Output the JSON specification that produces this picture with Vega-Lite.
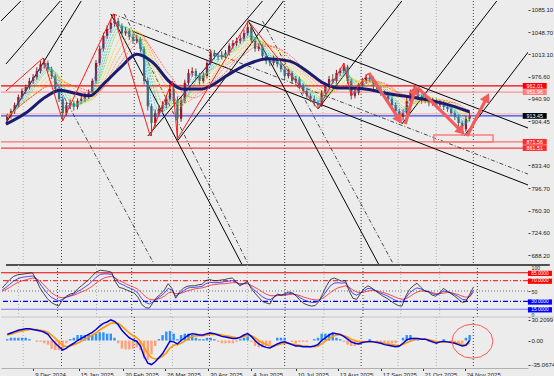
{
"$schema":"https://vega.github.io/schema/vega-lite/v6.json",
"background":"#ececec",
"padding":0,
"spacing":0,
"bounds":"flush",
"config":{"view":{"stroke":null},"font":"Liberation Sans","axis":{"labelFont":"Liberation Sans","labelFontSize":6,"labelColor":"#222","tickColor":"#444","grid":false,"title":null},"text":{"font":"Liberation Sans"}},
"datasets":{
"px":[
{"d":"2024-11-18","o":906,"h":917,"l":901,"c":913,"r":56,"b":52,"s":50,"m":9,"g":8,"hi":2},
{"d":"2024-11-21","o":913,"h":925,"l":909,"c":921,"r":64,"b":57,"s":53,"m":11,"g":9,"hi":4},
{"d":"2024-11-24","o":921,"h":935,"l":917,"c":931,"r":72,"b":63,"s":57,"m":13,"g":11,"hi":4},
{"d":"2024-11-27","o":931,"h":948,"l":927,"c":944,"r":78,"b":69,"s":62,"m":15,"g":13,"hi":4},
{"d":"2024-11-30","o":944,"h":958,"l":940,"c":954,"r":81,"b":73,"s":66,"m":16,"g":14,"hi":4},
{"d":"2024-12-03","o":954,"h":964,"l":949,"c":960,"r":82,"b":76,"s":69,"m":17,"g":15,"hi":4},
{"d":"2024-12-06","o":960,"h":975,"l":956,"c":970,"r":83,"b":77,"s":71,"m":17,"g":16,"hi":2},
{"d":"2024-12-09","o":970,"h":981,"l":965,"c":976,"r":84,"b":78,"s":73,"m":16,"g":16,"hi":0},
{"d":"2024-12-12","o":976,"h":992,"l":972,"c":986,"r":85,"b":79,"s":75,"m":15,"g":16,"hi":-2},
{"d":"2024-12-15","o":986,"h":1002,"l":982,"c":997,"r":72,"b":74,"s":74,"m":14,"g":15,"hi":-2},
{"d":"2024-12-18","o":997,"h":1006,"l":990,"c":999,"r":56,"b":64,"s":69,"m":12,"g":14,"hi":-4},
{"d":"2024-12-21","o":999,"h":1003,"l":984,"c":989,"r":45,"b":54,"s":62,"m":9,"g":12,"hi":-6},
{"d":"2024-12-24","o":989,"h":993,"l":973,"c":978,"r":35,"b":45,"s":54,"m":2,"g":8,"hi":-12},
{"d":"2024-12-27","o":978,"h":982,"l":952,"c":957,"r":28,"b":38,"s":47,"m":-4,"g":3,"hi":-14},
{"d":"2024-12-30","o":957,"h":962,"l":936,"c":941,"r":24,"b":34,"s":42,"m":-9,"g":-2,"hi":-14},
{"d":"2025-01-02","o":941,"h":945,"l":906,"c":918,"r":21,"b":31,"s":38,"m":-14,"g":-7,"hi":-14},
{"d":"2025-01-05","o":918,"h":936,"l":914,"c":931,"r":33,"b":34,"s":37,"m":-11,"g":-9,"hi":-4},
{"d":"2025-01-08","o":931,"h":940,"l":925,"c":934,"r":40,"b":38,"s":38,"m":-7,"g":-8,"hi":2},
{"d":"2025-01-11","o":934,"h":938,"l":922,"c":928,"r":44,"b":41,"s":40,"m":-4,"g":-6,"hi":4},
{"d":"2025-01-14","o":928,"h":942,"l":924,"c":938,"r":46,"b":44,"s":42,"m":0,"g":-4,"hi":8},
{"d":"2025-01-17","o":938,"h":946,"l":933,"c":941,"r":54,"b":49,"s":45,"m":3,"g":-1,"hi":8},
{"d":"2025-01-20","o":941,"h":951,"l":936,"c":946,"r":60,"b":53,"s":48,"m":6,"g":2,"hi":8},
{"d":"2025-01-23","o":946,"h":956,"l":941,"c":951,"r":66,"b":58,"s":51,"m":9,"g":5,"hi":8},
{"d":"2025-01-26","o":951,"h":974,"l":948,"c":970,"r":72,"b":63,"s":55,"m":12,"g":8,"hi":8},
{"d":"2025-01-29","o":970,"h":1004,"l":966,"c":999,"r":80,"b":70,"s":60,"m":16,"g":11,"hi":10},
{"d":"2025-02-01","o":999,"h":1027,"l":995,"c":1022,"r":87,"b":77,"s":66,"m":21,"g":15,"hi":12},
{"d":"2025-02-04","o":1022,"h":1048,"l":1018,"c":1043,"r":90,"b":82,"s":71,"m":25,"g":19,"hi":12},
{"d":"2025-02-07","o":1043,"h":1060,"l":1038,"c":1054,"r":89,"b":83,"s":75,"m":27,"g":22,"hi":10},
{"d":"2025-02-10","o":1054,"h":1070,"l":1048,"c":1064,"r":88,"b":83,"s":77,"m":30,"g":25,"hi":10},
{"d":"2025-02-13","o":1064,"h":1078,"l":1058,"c":1067,"r":86,"b":82,"s":78,"m":28,"g":26,"hi":4},
{"d":"2025-02-16","o":1067,"h":1072,"l":1053,"c":1059,"r":68,"b":74,"s":75,"m":23,"g":25,"hi":-4},
{"d":"2025-02-19","o":1059,"h":1063,"l":1042,"c":1047,"r":57,"b":65,"s":70,"m":15,"g":21,"hi":-12},
{"d":"2025-02-22","o":1047,"h":1057,"l":1043,"c":1051,"r":55,"b":62,"s":67,"m":9,"g":16,"hi":-13},
{"d":"2025-02-25","o":1051,"h":1055,"l":1036,"c":1041,"r":52,"b":58,"s":63,"m":4,"g":11,"hi":-13},
{"d":"2025-02-28","o":1041,"h":1046,"l":1030,"c":1035,"r":49,"b":55,"s":60,"m":1,"g":7,"hi":-12},
{"d":"2025-03-03","o":1035,"h":1044,"l":1031,"c":1038,"r":46,"b":52,"s":57,"m":-1,"g":4,"hi":-10},
{"d":"2025-03-06","o":1038,"h":1041,"l":1016,"c":1022,"r":38,"b":46,"s":53,"m":-8,"g":-1,"hi":-14},
{"d":"2025-03-09","o":1022,"h":1026,"l":964,"c":970,"r":24,"b":35,"s":46,"m":-23,"g":-10,"hi":-26},
{"d":"2025-03-12","o":970,"h":975,"l":922,"c":929,"r":18,"b":28,"s":39,"m":-33,"g":-19,"hi":-28},
{"d":"2025-03-15","o":929,"h":933,"l":881,"c":902,"r":17,"b":25,"s":34,"m":-35.07,"g":-25,"hi":-20},
{"d":"2025-03-18","o":902,"h":924,"l":896,"c":918,"r":28,"b":29,"s":33,"m":-31,"g":-27,"hi":-8},
{"d":"2025-03-21","o":918,"h":931,"l":912,"c":925,"r":38,"b":35,"s":34,"m":-25,"g":-26,"hi":2},
{"d":"2025-03-24","o":925,"h":937,"l":919,"c":931,"r":44,"b":40,"s":36,"m":-19,"g":-23,"hi":8},
{"d":"2025-03-27","o":931,"h":947,"l":926,"c":941,"r":52,"b":46,"s":40,"m":-10,"g":-18,"hi":13},
{"d":"2025-03-30","o":941,"h":970,"l":937,"c":957,"r":64,"b":55,"s":46,"m":-1,"g":-11,"hi":14},
{"d":"2025-04-02","o":957,"h":962,"l":932,"c":938,"r":55,"b":52,"s":48,"m":-2,"g":-7,"hi":10},
{"d":"2025-04-05","o":938,"h":945,"l":873,"c":909,"r":36,"b":40,"s":45,"m":-5,"g":-6,"hi":2},
{"d":"2025-04-08","o":909,"h":944,"l":904,"c":938,"r":48,"b":45,"s":45,"m":0,"g":-4,"hi":8},
{"d":"2025-04-11","o":938,"h":972,"l":934,"c":967,"r":55,"b":50,"s":47,"m":4,"g":-1,"hi":10},
{"d":"2025-04-14","o":967,"h":989,"l":962,"c":983,"r":59,"b":55,"s":50,"m":8,"g":3,"hi":10},
{"d":"2025-04-17","o":983,"h":992,"l":977,"c":986,"r":60,"b":57,"s":52,"m":10,"g":6,"hi":8},
{"d":"2025-04-20","o":986,"h":990,"l":972,"c":978,"r":60,"b":57,"s":54,"m":9,"g":7,"hi":4},
{"d":"2025-04-23","o":978,"h":983,"l":964,"c":970,"r":62,"b":58,"s":55,"m":8,"g":7,"hi":2},
{"d":"2025-04-26","o":970,"h":984,"l":966,"c":978,"r":63,"b":59,"s":56,"m":8,"g":7,"hi":2},
{"d":"2025-04-29","o":978,"h":1004,"l":974,"c":999,"r":70,"b":64,"s":58,"m":10,"g":8,"hi":4},
{"d":"2025-05-02","o":999,"h":1021,"l":995,"c":1015,"r":72,"b":67,"s":61,"m":11,"g":9,"hi":4},
{"d":"2025-05-05","o":1015,"h":1020,"l":1005,"c":1010,"r":70,"b":66,"s":62,"m":10,"g":9,"hi":2},
{"d":"2025-05-08","o":1010,"h":1016,"l":1003,"c":1009,"r":70,"b":66,"s":63,"m":8,"g":9,"hi":-2},
{"d":"2025-05-11","o":1009,"h":1018,"l":1005,"c":1012,"r":71,"b":67,"s":64,"m":6,"g":8,"hi":-4},
{"d":"2025-05-14","o":1012,"h":1020,"l":1008,"c":1015,"r":72,"b":68,"s":64,"m":5,"g":7,"hi":-4},
{"d":"2025-05-17","o":1015,"h":1031,"l":1011,"c":1027,"r":74,"b":69,"s":65,"m":4,"g":6,"hi":-4},
{"d":"2025-05-20","o":1027,"h":1036,"l":1022,"c":1031,"r":75,"b":70,"s":66,"m":3,"g":5,"hi":-4},
{"d":"2025-05-23","o":1031,"h":1040,"l":1026,"c":1035,"r":68,"b":67,"s":66,"m":3,"g":4,"hi":-2},
{"d":"2025-05-26","o":1035,"h":1044,"l":1030,"c":1038,"r":60,"b":63,"s":64,"m":5,"g":4,"hi":2},
{"d":"2025-05-29","o":1038,"h":1053,"l":1034,"c":1047,"r":64,"b":64,"s":64,"m":8,"g":6,"hi":4},
{"d":"2025-06-01","o":1047,"h":1067,"l":1043,"c":1057,"r":69,"b":66,"s":64,"m":10,"g":8,"hi":6},
{"d":"2025-06-04","o":1057,"h":1061,"l":1030,"c":1035,"r":55,"b":58,"s":61,"m":6,"g":7,"hi":-2},
{"d":"2025-06-07","o":1035,"h":1040,"l":1017,"c":1022,"r":46,"b":51,"s":57,"m":0,"g":4,"hi":-8},
{"d":"2025-06-10","o":1022,"h":1031,"l":1018,"c":1025,"r":38,"b":45,"s":53,"m":-5,"g":0,"hi":-10},
{"d":"2025-06-13","o":1025,"h":1029,"l":1005,"c":1010,"r":30,"b":39,"s":48,"m":-8,"g":-3,"hi":-10},
{"d":"2025-06-16","o":1010,"h":1015,"l":997,"c":1002,"r":27,"b":35,"s":44,"m":-10,"g":-6,"hi":-8},
{"d":"2025-06-19","o":1002,"h":1008,"l":994,"c":999,"r":25,"b":33,"s":41,"m":-11,"g":-8,"hi":-6},
{"d":"2025-06-22","o":999,"h":1011,"l":995,"c":1005,"r":38,"b":38,"s":41,"m":-8,"g":-8,"hi":0},
{"d":"2025-06-25","o":1005,"h":1009,"l":992,"c":997,"r":44,"b":42,"s":42,"m":-5,"g":-7,"hi":4},
{"d":"2025-06-28","o":997,"h":1001,"l":984,"c":989,"r":42,"b":42,"s":42,"m":-3,"g":-5,"hi":4},
{"d":"2025-07-01","o":989,"h":993,"l":973,"c":978,"r":45,"b":43,"s":42,"m":-2,"g":-4,"hi":4},
{"d":"2025-07-04","o":978,"h":988,"l":974,"c":983,"r":48,"b":45,"s":43,"m":-4,"g":-4,"hi":0},
{"d":"2025-07-07","o":983,"h":986,"l":965,"c":970,"r":46,"b":45,"s":44,"m":-6,"g":-5,"hi":-2},
{"d":"2025-07-10","o":970,"h":978,"l":966,"c":973,"r":40,"b":42,"s":43,"m":-8,"g":-6,"hi":-4},
{"d":"2025-07-13","o":973,"h":977,"l":957,"c":962,"r":32,"b":37,"s":41,"m":-8,"g":-7,"hi":-2},
{"d":"2025-07-16","o":962,"h":966,"l":949,"c":954,"r":26,"b":33,"s":38,"m":-9,"g":-8,"hi":-2},
{"d":"2025-07-19","o":954,"h":958,"l":941,"c":946,"r":23,"b":30,"s":36,"m":-9,"g":-8,"hi":-2},
{"d":"2025-07-22","o":946,"h":950,"l":936,"c":941,"r":21,"b":28,"s":34,"m":-9,"g":-9,"hi":0},
{"d":"2025-07-25","o":941,"h":946,"l":929,"c":934,"r":22,"b":28,"s":33,"m":-8,"g":-9,"hi":2},
{"d":"2025-07-28","o":934,"h":939,"l":925,"c":931,"r":30,"b":31,"s":33,"m":-6,"g":-8,"hi":4},
{"d":"2025-07-31","o":931,"h":955,"l":928,"c":951,"r":45,"b":40,"s":36,"m":0,"g":-5,"hi":10},
{"d":"2025-08-03","o":951,"h":967,"l":947,"c":962,"r":60,"b":50,"s":41,"m":4,"g":-1,"hi":10},
{"d":"2025-08-06","o":962,"h":978,"l":958,"c":973,"r":72,"b":60,"s":47,"m":8,"g":3,"hi":10},
{"d":"2025-08-09","o":973,"h":981,"l":966,"c":970,"r":75,"b":65,"s":52,"m":11,"g":6,"hi":10},
{"d":"2025-08-12","o":970,"h":988,"l":966,"c":983,"r":72,"b":66,"s":56,"m":10,"g":8,"hi":4},
{"d":"2025-08-15","o":983,"h":991,"l":978,"c":986,"r":69,"b":65,"s":58,"m":9,"g":8,"hi":2},
{"d":"2025-08-18","o":986,"h":999,"l":982,"c":993,"r":70,"b":66,"s":60,"m":6,"g":7,"hi":-2},
{"d":"2025-08-21","o":993,"h":996,"l":965,"c":970,"r":50,"b":56,"s":57,"m":2,"g":5,"hi":-6},
{"d":"2025-08-24","o":970,"h":974,"l":940,"c":946,"r":36,"b":45,"s":52,"m":-2,"g":2,"hi":-8},
{"d":"2025-08-27","o":946,"h":957,"l":942,"c":951,"r":34,"b":42,"s":48,"m":-4,"g":0,"hi":-8},
{"d":"2025-08-30","o":951,"h":967,"l":947,"c":962,"r":45,"b":46,"s":47,"m":-5,"g":-2,"hi":-6},
{"d":"2025-09-02","o":962,"h":975,"l":958,"c":970,"r":55,"b":51,"s":48,"m":-3,"g":-2,"hi":-2},
{"d":"2025-09-05","o":970,"h":981,"l":966,"c":976,"r":60,"b":55,"s":50,"m":-2,"g":-2,"hi":0},
{"d":"2025-09-08","o":976,"h":983,"l":968,"c":973,"r":56,"b":54,"s":51,"m":-1,"g":-2,"hi":2},
{"d":"2025-09-11","o":973,"h":977,"l":957,"c":962,"r":50,"b":51,"s":51,"m":-2,"g":-2,"hi":0},
{"d":"2025-09-14","o":962,"h":966,"l":952,"c":957,"r":45,"b":47,"s":49,"m":-3,"g":-2,"hi":-2},
{"d":"2025-09-17","o":957,"h":961,"l":946,"c":951,"r":40,"b":44,"s":47,"m":-4,"g":-3,"hi":-2},
{"d":"2025-09-20","o":951,"h":955,"l":942,"c":947,"r":36,"b":41,"s":45,"m":-6,"g":-4,"hi":-4},
{"d":"2025-09-23","o":947,"h":951,"l":936,"c":941,"r":31,"b":37,"s":42,"m":-7,"g":-5,"hi":-4},
{"d":"2025-09-26","o":941,"h":945,"l":926,"c":931,"r":26,"b":33,"s":39,"m":-8,"g":-6,"hi":-4},
{"d":"2025-09-29","o":931,"h":935,"l":916,"c":921,"r":22,"b":30,"s":36,"m":-9,"g":-7,"hi":-4},
{"d":"2025-10-02","o":921,"h":925,"l":902,"c":912,"r":21,"b":29,"s":34,"m":-8,"g":-8,"hi":0},
{"d":"2025-10-05","o":912,"h":924,"l":906,"c":918,"r":40,"b":37,"s":35,"m":-4,"g":-6,"hi":4},
{"d":"2025-10-08","o":918,"h":943,"l":914,"c":938,"r":53,"b":46,"s":39,"m":1,"g":-3,"hi":8},
{"d":"2025-10-11","o":938,"h":956,"l":934,"c":951,"r":60,"b":52,"s":44,"m":3,"g":-1,"hi":8},
{"d":"2025-10-14","o":951,"h":962,"l":946,"c":957,"r":65,"b":56,"s":48,"m":3,"g":1,"hi":4},
{"d":"2025-10-17","o":957,"h":960,"l":939,"c":944,"r":57,"b":54,"s":50,"m":3,"g":2,"hi":2},
{"d":"2025-10-20","o":944,"h":948,"l":933,"c":938,"r":50,"b":51,"s":50,"m":2,"g":2,"hi":0},
{"d":"2025-10-23","o":938,"h":946,"l":934,"c":941,"r":48,"b":49,"s":49,"m":2,"g":2,"hi":0},
{"d":"2025-10-26","o":941,"h":945,"l":929,"c":934,"r":42,"b":45,"s":47,"m":0,"g":1,"hi":-2},
{"d":"2025-10-29","o":934,"h":943,"l":930,"c":938,"r":40,"b":43,"s":45,"m":-2,"g":0,"hi":-4},
{"d":"2025-11-01","o":938,"h":942,"l":926,"c":931,"r":46,"b":45,"s":45,"m":-4,"g":-2,"hi":-4},
{"d":"2025-11-04","o":931,"h":939,"l":927,"c":934,"r":55,"b":50,"s":46,"m":-2,"g":-2,"hi":0},
{"d":"2025-11-07","o":934,"h":938,"l":923,"c":928,"r":50,"b":49,"s":47,"m":-1,"g":-2,"hi":2},
{"d":"2025-11-10","o":928,"h":932,"l":920,"c":925,"r":45,"b":46,"s":47,"m":-2,"g":-2,"hi":0},
{"d":"2025-11-13","o":925,"h":929,"l":913,"c":918,"r":40,"b":43,"s":45,"m":-3,"g":-2,"hi":-2},
{"d":"2025-11-16","o":918,"h":922,"l":907,"c":912,"r":34,"b":39,"s":43,"m":-4,"g":-3,"hi":-2},
{"d":"2025-11-19","o":912,"h":916,"l":896,"c":902,"r":28,"b":34,"s":40,"m":-6,"g":-4,"hi":-4},
{"d":"2025-11-22","o":902,"h":906,"l":881,"c":892,"r":30,"b":33,"s":38,"m":-8,"g":-6,"hi":-4},
{"d":"2025-11-25","o":892,"h":914,"l":888,"c":909,"r":44,"b":40,"s":39,"m":-7,"g":-6,"hi":4},
{"d":"2025-11-28","o":909,"h":920,"l":905,"c":913.45,"r":58,"b":52,"s":48,"m":0,"g":-4,"hi":8}
],
"ma":[
{"d":"2024-11-17","v":900},{"d":"2024-12-03","v":918},{"d":"2024-12-19","v":944},{"d":"2024-12-31","v":955},
{"d":"2025-01-12","v":950},{"d":"2025-01-24","v":946},{"d":"2025-02-05","v":967},{"d":"2025-02-18","v":992},
{"d":"2025-03-03","v":1013},{"d":"2025-03-16","v":1000},{"d":"2025-03-30","v":968},{"d":"2025-04-09","v":957},
{"d":"2025-04-25","v":957},{"d":"2025-05-01","v":961},{"d":"2025-05-17","v":981},{"d":"2025-06-01","v":997},
{"d":"2025-06-17","v":1006},{"d":"2025-07-05","v":1002},{"d":"2025-07-21","v":983},{"d":"2025-08-01","v":967},
{"d":"2025-08-12","v":959},{"d":"2025-08-28","v":958},{"d":"2025-09-07","v":956},{"d":"2025-09-21","v":950},
{"d":"2025-10-04","v":946},{"d":"2025-10-17","v":942},{"d":"2025-10-31","v":937},{"d":"2025-11-13","v":930},
{"d":"2025-11-28","v":920}
],
"grid":[
{"d":"2024-12-01","k":"m"},{"d":"2025-01-01","k":"M"},{"d":"2025-02-01","k":"m"},{"d":"2025-03-01","k":"M"},
{"d":"2025-04-01","k":"m"},{"d":"2025-05-01","k":"M"},{"d":"2025-06-01","k":"m"},{"d":"2025-07-01","k":"M"},
{"d":"2025-08-01","k":"m"},{"d":"2025-09-01","k":"M"},{"d":"2025-10-01","k":"m"},{"d":"2025-11-01","k":"m"},
{"d":"2025-12-01","k":"M"}
],
"tl":[
{"k":"s","d1":"2024-11-13","p1":1066.9,"d2":"2024-12-03","p2":1107.3},
{"k":"s","d1":"2024-11-17","p1":997.4,"d2":"2024-12-31","p2":1099.2},
{"k":"s","d1":"2024-11-17","p1":902,"d2":"2025-01-17","p2":1099.2},
{"k":"s","d1":"2025-06-01T12:00:00Z","p1":1068.5,"d2":"2026-01-20T14:00:00Z","p2":889.1},
{"k":"s","d1":"2025-03-01","p1":1049.1,"d2":"2026-01-20T14:00:00Z","p2":797},
{"k":"s","d1":"2025-02-10","p1":1078.2,"d2":"2025-05-31","p2":659.6},
{"k":"s","d1":"2025-06-01T12:00:00Z","p1":1066.9,"d2":"2025-09-19","p2":659.6},
{"k":"s","d1":"2025-03-12","p1":881,"d2":"2025-06-13","p2":1099.2},
{"k":"s","d1":"2025-04-05","p1":872.9,"d2":"2025-06-30","p2":1099.2},
{"k":"s","d1":"2025-10-04","p1":900.4,"d2":"2025-12-20","p2":1099.2},
{"k":"s","d1":"2025-11-23T12:00:00Z","p1":881,"d2":"2026-01-20T14:00:00Z","p2":1032.5},
{"k":"s","d1":"2025-07-28","p1":924.6,"d2":"2025-10-04","p2":1099.2},
{"k":"m","d1":"2025-02-12","p1":1078.2,"d2":"2026-01-20T14:00:00Z","p2":814.7},
{"k":"m","d1":"2024-12-17","p1":1007.1,"d2":"2025-03-21","p2":659.6},
{"k":"m","d1":"2025-02-21","p1":1078.2,"d2":"2025-06-05","p2":659.6},
{"k":"m","d1":"2025-06-13","p1":1066.9,"d2":"2025-10-01","p2":659.6}
],
"zz":[
{"d":"2024-11-17","p":953.8},{"d":"2024-12-17","p":1007.1},{"d":"2025-01-02","p":905.3},{"d":"2025-02-12","p":1078.2},
{"d":"2025-03-14","p":881},{"d":"2025-04-01","p":970},{"d":"2025-04-05","p":876.2},{"d":"2025-06-01T12:00:00Z","p":1066.9},
{"d":"2025-07-28","p":924.7},{"d":"2025-08-18","p":999},{"d":"2025-08-24","p":945.7},{"d":"2025-09-07","p":982.8}
],
"arr":[
{"d1":"2025-09-07T10:00:00Z","p1":982.8,"d2":"2025-10-02T00:00:00Z","p2":907.3},
{"d1":"2025-10-06T19:00:00Z","p1":900.4,"d2":"2025-10-14T17:00:00Z","p2":955.7},
{"d1":"2025-10-17T02:00:00Z","p1":958.6,"d2":"2025-11-21T07:00:00Z","p2":888.8},
{"d1":"2025-11-25T22:00:00Z","p1":881,"d2":"2025-12-12T00:00:00Z","p2":943.1}
],
"heads":[
{"n":1,"d":"2025-10-02T00:00:00Z","p":907.3},{"n":2,"d":"2025-10-14T17:00:00Z","p":955.7},
{"n":3,"d":"2025-11-21T07:00:00Z","p":888.8},{"n":4,"d":"2025-12-12T00:00:00Z","p":943.1}
],
"box":[{"d1":"2025-10-30","p1":882.6,"d2":"2025-12-17","p2":871.4}],
"hl":[{"p":962.01,"k":"a"},{"p":951.96,"k":"b"},{"p":916.6,"k":"c"},{"p":913.45,"k":"d"},{"p":871.56,"k":"e"},{"p":861.51,"k":"f"}],
"tags":[{"p":962.01,"t":"962.01","k":"a"},{"p":951.96,"t":"951.96","k":"b"},{"p":913.45,"t":"913.45","k":"d"},{"p":871.56,"t":"871.56","k":"e"},{"p":861.51,"t":"861.51","k":"e"}],
"lv":[{"v":85,"k":"a"},{"v":70,"k":"b"},{"v":50,"k":"c"},{"v":30,"k":"d"},{"v":15,"k":"e"}],
"rtags":[{"v":85,"t":"85.0000","k":"r"},{"v":70,"t":"70.0000","k":"r"},{"v":30,"t":"30.0000","k":"b"},{"v":15,"t":"15.0000","k":"b"}],
"sep":[{"d1":"2024-11-17","d2":"2026-02-01"}],
"circ":[{"d":"2025-11-30T07:00:00Z","v":-1}]
},
"vconcat":[
{
"width":527,"height":264,
"resolve":{"axis":{"x":"independent","y":"independent"}},
"layer":[
{"data":{"name":"grid"},"mark":{"type":"rule","strokeDash":[1,2],"strokeWidth":1},
 "encoding":{"x":{"field":"d","type":"temporal","scale":{"domain":[1731801600000,1768028400000],"nice":false},"axis":null},
 "color":{"condition":{"test":"datum.k=='M'","value":"#3c3c3c"},"value":"#b0b0b0"}}},
{"data":{"name":"hl"},"mark":{"type":"rule","strokeWidth":1.2},
 "encoding":{"y":{"field":"p","type":"quantitative","scale":{"domain":[672.5,1099.2],"nice":false,"zero":false},"axis":null},
 "color":{"condition":[{"test":"datum.k=='a'","value":"#ff0000"},{"test":"datum.k=='b'","value":"#ff9494"},{"test":"datum.k=='c'","value":"#ffb8a8"},{"test":"datum.k=='d'","value":"#2a4dff"},{"test":"datum.k=='e'","value":"#ff7070"}],"value":"#ff3a3a"}}},
{"data":{"name":"tl"},"transform":[{"filter":"datum.k=='s'"}],"mark":{"type":"rule","color":"#000000","strokeWidth":1,"clip":true},
 "encoding":{"x":{"field":"d1","type":"temporal","scale":{"domain":[1731801600000,1768028400000],"nice":false},"axis":null},"x2":{"field":"d2"},
 "y":{"field":"p1","type":"quantitative","scale":{"domain":[672.5,1099.2],"nice":false,"zero":false},"axis":null},"y2":{"field":"p2"}}},
{"data":{"name":"tl"},"transform":[{"filter":"datum.k=='m'"}],"mark":{"type":"rule","color":"#222222","strokeWidth":0.8,"strokeDash":[4,2,1,2],"clip":true},
 "encoding":{"x":{"field":"d1","type":"temporal","scale":{"domain":[1731801600000,1768028400000],"nice":false},"axis":null},"x2":{"field":"d2"},
 "y":{"field":"p1","type":"quantitative","scale":{"domain":[672.5,1099.2],"nice":false,"zero":false},"axis":null},"y2":{"field":"p2"}}},
{"data":{"name":"px"},"mark":{"type":"rule","strokeWidth":1},
 "encoding":{"x":{"field":"d","type":"temporal","scale":{"domain":[1731801600000,1768028400000],"nice":false},"axis":null},
 "y":{"field":"l","type":"quantitative","scale":{"domain":[672.5,1099.2],"nice":false,"zero":false},
   "axis":{"orient":"right","values":[688.2,724.6,760.3,796.7,833.4,904.45,940.9,976.6,1013.1,1048.7,1085.1],"format":".2f","tickSize":2,"labelPadding":1,"domain":false,"grid":false,"title":null,"labelOverlap":false,"labelFlush":false}},
 "y2":{"field":"h"},
 "color":{"condition":{"test":"datum.c>=datum.o","value":"#9a1a1a"},"value":"#46675c"}}},
{"data":{"name":"px"},"mark":{"type":"bar","size":2.2},
 "encoding":{"x":{"field":"d","type":"temporal","scale":{"domain":[1731801600000,1768028400000],"nice":false},"axis":null},
 "y":{"field":"o","type":"quantitative","scale":{"domain":[672.5,1099.2],"nice":false,"zero":false},"axis":null},"y2":{"field":"c"},
 "color":{"condition":{"test":"datum.c>=datum.o","value":"#9a1a1a"},"value":"#46675c"}}},
{"data":{"name":"px"},
 "transform":[
  {"window":[{"op":"mean","field":"c","as":"a2"}],"frame":[-1,0],"sort":[{"field":"d"}]},
  {"window":[{"op":"mean","field":"c","as":"a3"}],"frame":[-2,0],"sort":[{"field":"d"}]},
  {"window":[{"op":"mean","field":"c","as":"a4"}],"frame":[-3,0],"sort":[{"field":"d"}]},
  {"window":[{"op":"mean","field":"c","as":"a5"}],"frame":[-4,0],"sort":[{"field":"d"}]},
  {"window":[{"op":"mean","field":"c","as":"a6"}],"frame":[-5,0],"sort":[{"field":"d"}]},
  {"window":[{"op":"mean","field":"c","as":"a8"}],"frame":[-7,0],"sort":[{"field":"d"}]},
  {"window":[{"op":"mean","field":"c","as":"a10"}],"frame":[-9,0],"sort":[{"field":"d"}]},
  {"window":[{"op":"mean","field":"c","as":"a12"}],"frame":[-11,0],"sort":[{"field":"d"}]},
  {"window":[{"op":"mean","field":"c","as":"a14"}],"frame":[-13,0],"sort":[{"field":"d"}]},
  {"fold":["a2","a3","a4","a5","a6","a8","a10","a12","a14"],"as":["ma","v"]}],
 "mark":{"type":"line","strokeWidth":0.8,"strokeDash":[2,1],"opacity":0.85,"clip":true},
 "encoding":{"x":{"field":"d","type":"temporal","scale":{"domain":[1731801600000,1768028400000],"nice":false},"axis":null},
 "y":{"field":"v","type":"quantitative","scale":{"domain":[672.5,1099.2],"nice":false,"zero":false},"axis":null},
 "color":{"field":"ma","type":"nominal","scale":{"domain":["a2","a3","a4","a5","a6","a8","a10","a12","a14"],"range":["#1e6cff","#26a6ff","#19c8c8","#22c55e","#7ed321","#e6d200","#ffa500","#ff7a1a","#ff3b3b"]},"legend":null}}},
{"data":{"name":"ma"},"mark":{"type":"line","color":"#1b1b6f","strokeWidth":3,"interpolate":"monotone","clip":true},
 "encoding":{"x":{"field":"d","type":"temporal","scale":{"domain":[1731801600000,1768028400000],"nice":false},"axis":null},
 "y":{"field":"v","type":"quantitative","scale":{"domain":[672.5,1099.2],"nice":false,"zero":false},"axis":null}}},
{"data":{"name":"zz"},"mark":{"type":"line","color":"#ff1a1a","strokeWidth":1,"clip":true},
 "encoding":{"x":{"field":"d","type":"temporal","scale":{"domain":[1731801600000,1768028400000],"nice":false},"axis":null},
 "y":{"field":"p","type":"quantitative","scale":{"domain":[672.5,1099.2],"nice":false,"zero":false},"axis":null}}},
{"data":{"name":"box"},"mark":{"type":"rect","filled":false,"color":"#ff7b7b","strokeWidth":1.5},
 "encoding":{"x":{"field":"d1","type":"temporal","scale":{"domain":[1731801600000,1768028400000],"nice":false},"axis":null},"x2":{"field":"d2"},
 "y":{"field":"p1","type":"quantitative","scale":{"domain":[672.5,1099.2],"nice":false,"zero":false},"axis":null},"y2":{"field":"p2"}}},
{"data":{"name":"arr"},"mark":{"type":"rule","color":"#f25c5c","strokeWidth":3.2},
 "encoding":{"x":{"field":"d1","type":"temporal","scale":{"domain":[1731801600000,1768028400000],"nice":false},"axis":null},"x2":{"field":"d2"},
 "y":{"field":"p1","type":"quantitative","scale":{"domain":[672.5,1099.2],"nice":false,"zero":false},"axis":null},"y2":{"field":"p2"}}},
{"data":{"name":"heads"},"transform":[{"filter":"datum.n==1"}],"mark":{"type":"point","shape":"triangle-up","filled":true,"size":120,"angle":146,"color":"#f25c5c","opacity":1},
 "encoding":{"x":{"field":"d","type":"temporal","scale":{"domain":[1731801600000,1768028400000],"nice":false},"axis":null},
 "y":{"field":"p","type":"quantitative","scale":{"domain":[672.5,1099.2],"nice":false,"zero":false},"axis":null}}},
{"data":{"name":"heads"},"transform":[{"filter":"datum.n==2"}],"mark":{"type":"point","shape":"triangle-up","filled":true,"size":120,"angle":16,"color":"#f25c5c","opacity":1},
 "encoding":{"x":{"field":"d","type":"temporal","scale":{"domain":[1731801600000,1768028400000],"nice":false},"axis":null},
 "y":{"field":"p","type":"quantitative","scale":{"domain":[672.5,1099.2],"nice":false,"zero":false},"axis":null}}},
{"data":{"name":"heads"},"transform":[{"filter":"datum.n==3"}],"mark":{"type":"point","shape":"triangle-up","filled":true,"size":120,"angle":135,"color":"#f25c5c","opacity":1},
 "encoding":{"x":{"field":"d","type":"temporal","scale":{"domain":[1731801600000,1768028400000],"nice":false},"axis":null},
 "y":{"field":"p","type":"quantitative","scale":{"domain":[672.5,1099.2],"nice":false,"zero":false},"axis":null}}},
{"data":{"name":"heads"},"transform":[{"filter":"datum.n==4"}],"mark":{"type":"point","shape":"triangle-up","filled":true,"size":120,"angle":27,"color":"#f25c5c","opacity":1},
 "encoding":{"x":{"field":"d","type":"temporal","scale":{"domain":[1731801600000,1768028400000],"nice":false},"axis":null},
 "y":{"field":"p","type":"quantitative","scale":{"domain":[672.5,1099.2],"nice":false,"zero":false},"axis":null}}},
{"data":{"name":"sep"},"mark":{"type":"rule","color":"#505050","strokeWidth":2},
 "encoding":{"x":{"field":"d1","type":"temporal","scale":{"domain":[1731801600000,1768028400000],"nice":false},"axis":null},"x2":{"field":"d2"},
 "y":{"datum":672.5,"type":"quantitative","scale":{"domain":[672.5,1099.2],"nice":false,"zero":false},"axis":null}}},
{"data":{"name":"tags"},"mark":{"type":"point","shape":"M-1,-0.24H1V0.24H-1Z","filled":true,"size":576,"opacity":1,"strokeWidth":0},
 "encoding":{"x":{"datum":1768849200000,"type":"temporal","scale":{"domain":[1731801600000,1768028400000],"nice":false},"axis":null},
 "y":{"field":"p","type":"quantitative","scale":{"domain":[672.5,1099.2],"nice":false,"zero":false},"axis":null},
 "color":{"condition":[{"test":"datum.k=='a'","value":"#ff0000"},{"test":"datum.k=='b'","value":"#ff7c7c"},{"test":"datum.k=='d'","value":"#000000"}],"value":"#ff2a2a"}}},
{"data":{"name":"tags"},"mark":{"type":"text","fontSize":5.3,"color":"#ffffff","align":"center","baseline":"middle"},
 "encoding":{"x":{"datum":1768849200000,"type":"temporal","scale":{"domain":[1731801600000,1768028400000],"nice":false},"axis":null},
 "y":{"field":"p","type":"quantitative","scale":{"domain":[672.5,1099.2],"nice":false,"zero":false},"axis":null},
 "text":{"field":"t"}}}
]
},
{
"width":527,"height":52,
"resolve":{"axis":{"x":"independent","y":"independent"}},
"layer":[
{"data":{"name":"grid"},"mark":{"type":"rule","strokeDash":[1,2],"strokeWidth":1},
 "encoding":{"x":{"field":"d","type":"temporal","scale":{"domain":[1731801600000,1768028400000],"nice":false},"axis":null},
 "color":{"condition":{"test":"datum.k=='M'","value":"#3c3c3c"},"value":"#b0b0b0"}}},
{"data":{"name":"lv"},"mark":{"type":"rule","strokeWidth":1.1},
 "encoding":{"y":{"field":"v","type":"quantitative","scale":{"domain":[0,100],"nice":false},"axis":null},
 "strokeDash":{"field":"k","type":"nominal","scale":{"domain":["a","b","c","d","e"],"range":[[1,0],[5,2,1,2],[1,2],[5,2,1,2],[1,0]]},"legend":null},
 "color":{"condition":[{"test":"datum.k=='a'","value":"#ee0000"},{"test":"datum.k=='b'","value":"#ff3030"},{"test":"datum.k=='c'","value":"#707070"},{"test":"datum.k=='d'","value":"#0000ee"}],"value":"#7a7aff"}}},
{"data":{"name":"sep"},"mark":{"type":"rule","color":"#c4c4c4","strokeWidth":1},
 "encoding":{"x":{"field":"d1","type":"temporal","scale":{"domain":[1731801600000,1768028400000],"nice":false},"axis":null},"x2":{"field":"d2"},
 "y":{"datum":0,"type":"quantitative","scale":{"domain":[0,100],"nice":false},"axis":null}}},
{"data":{"name":"px"},"mark":{"type":"line","color":"#ff2020","strokeWidth":0.8},
 "encoding":{"x":{"field":"d","type":"temporal","scale":{"domain":[1731801600000,1768028400000],"nice":false},"axis":null},
 "y":{"field":"s","type":"quantitative","scale":{"domain":[0,100],"nice":false},
   "axis":{"orient":"right","values":[0,50,100],"tickSize":2,"labelPadding":1,"labelFontSize":5.2,"domain":false,"grid":false,"title":null,"labelFlush":true}}}},
{"data":{"name":"px"},"mark":{"type":"line","color":"#2020ff","strokeWidth":0.8},
 "encoding":{"x":{"field":"d","type":"temporal","scale":{"domain":[1731801600000,1768028400000],"nice":false},"axis":null},
 "y":{"field":"b","type":"quantitative","scale":{"domain":[0,100],"nice":false},"axis":null}}},
{"data":{"name":"px"},"mark":{"type":"line","color":"#1a1a1a","strokeWidth":0.8},
 "encoding":{"x":{"field":"d","type":"temporal","scale":{"domain":[1731801600000,1768028400000],"nice":false},"axis":null},
 "y":{"field":"r","type":"quantitative","scale":{"domain":[0,100],"nice":false},"axis":null}}},
{"data":{"name":"rtags"},"mark":{"type":"point","shape":"M-1,-0.22H1V0.22H-1Z","filled":true,"size":576,"opacity":1,"strokeWidth":0,"yOffset":0.6},
 "encoding":{"x":{"datum":1768849200000,"type":"temporal","scale":{"domain":[1731801600000,1768028400000],"nice":false},"axis":null},
 "y":{"field":"v","type":"quantitative","scale":{"domain":[0,100],"nice":false},"axis":null},
 "color":{"condition":{"test":"datum.k=='r'","value":"#ff0000"},"value":"#0000ff"}}},
{"data":{"name":"rtags"},"mark":{"type":"text","fontSize":4.8,"color":"#ffffff","align":"center","baseline":"middle","dy":0.8},
 "encoding":{"x":{"datum":1768849200000,"type":"temporal","scale":{"domain":[1731801600000,1768028400000],"nice":false},"axis":null},
 "y":{"field":"v","type":"quantitative","scale":{"domain":[0,100],"nice":false},"axis":null},
 "text":{"field":"t"}}}
]
},
{
"width":527,"height":51,
"resolve":{"axis":{"x":"independent","y":"independent"}},
"layer":[
{"data":{"name":"grid"},"mark":{"type":"rule","strokeDash":[1,2],"strokeWidth":1},
 "encoding":{"x":{"field":"d","type":"temporal","scale":{"domain":[1731801600000,1768028400000],"nice":false},"axis":null},
 "color":{"condition":{"test":"datum.k=='M'","value":"#3c3c3c"},"value":"#b0b0b0"}}},
{"data":{"name":"px"},"mark":{"type":"bar","size":2.4},
 "encoding":{"x":{"field":"d","type":"temporal","scale":{"domain":[1731801600000,1768028400000],"nice":false},
   "axis":{"values":[1733702400000,1736899200000,1740009600000,1742947200000,1745971200000,1748995200000,1752105600000,1755043200000,1758067200000,1761004800000,1763942400000],
   "format":"%-d %b %Y","labelAlign":"left","labelOffset":1.5,"tickSize":2.5,"labelPadding":0.5,"domainColor":"#b0b0b0","tickColor":"#333","grid":false,"title":null,"labelOverlap":false,"labelFlush":false,"labelBound":false}},
 "y":{"field":"hi","type":"quantitative","scale":{"domain":[-40.1,34.3],"nice":false},
   "axis":{"orient":"right","values":[-35.0674,0,30.2099],"labelExpr":"datum.value > 10 ? '30.2099' : (datum.value < -10 ? '-35.0674' : '0.00')","tickSize":2,"labelPadding":1,"domain":false,"grid":false,"title":null,"labelFlush":false}},
 "color":{"condition":{"test":"datum.hi>=0","value":"#2e8fff"},"value":"#ffa07a"}}},
{"data":{"name":"px"},"mark":{"type":"line","color":"#ff9a00","strokeWidth":1.6},
 "encoding":{"x":{"field":"d","type":"temporal","scale":{"domain":[1731801600000,1768028400000],"nice":false},"axis":null},
 "y":{"field":"g","type":"quantitative","scale":{"domain":[-40.1,34.3],"nice":false},"axis":null}}},
{"data":{"name":"px"},"mark":{"type":"line","color":"#0000dd","strokeWidth":1.5},
 "encoding":{"x":{"field":"d","type":"temporal","scale":{"domain":[1731801600000,1768028400000],"nice":false},"axis":null},
 "y":{"field":"m","type":"quantitative","scale":{"domain":[-40.1,34.3],"nice":false},"axis":null}}},
{"data":{"name":"circ"},"mark":{"type":"point","shape":"M1,0L0.924,0.318L0.707,0.587L0.383,0.767L0,0.83L-0.383,0.767L-0.707,0.587L-0.924,0.318L-1,0L-0.924,-0.318L-0.707,-0.587L-0.383,-0.767L0,-0.83L0.383,-0.767L0.707,-0.587L0.924,-0.318Z","filled":false,"size":1681,"color":"#ff5a5a","strokeWidth":1,"opacity":1},
 "encoding":{"x":{"field":"d","type":"temporal","scale":{"domain":[1731801600000,1768028400000],"nice":false},"axis":null},
 "y":{"field":"v","type":"quantitative","scale":{"domain":[-40.1,34.3],"nice":false},"axis":null}}}
]
}
]
}
